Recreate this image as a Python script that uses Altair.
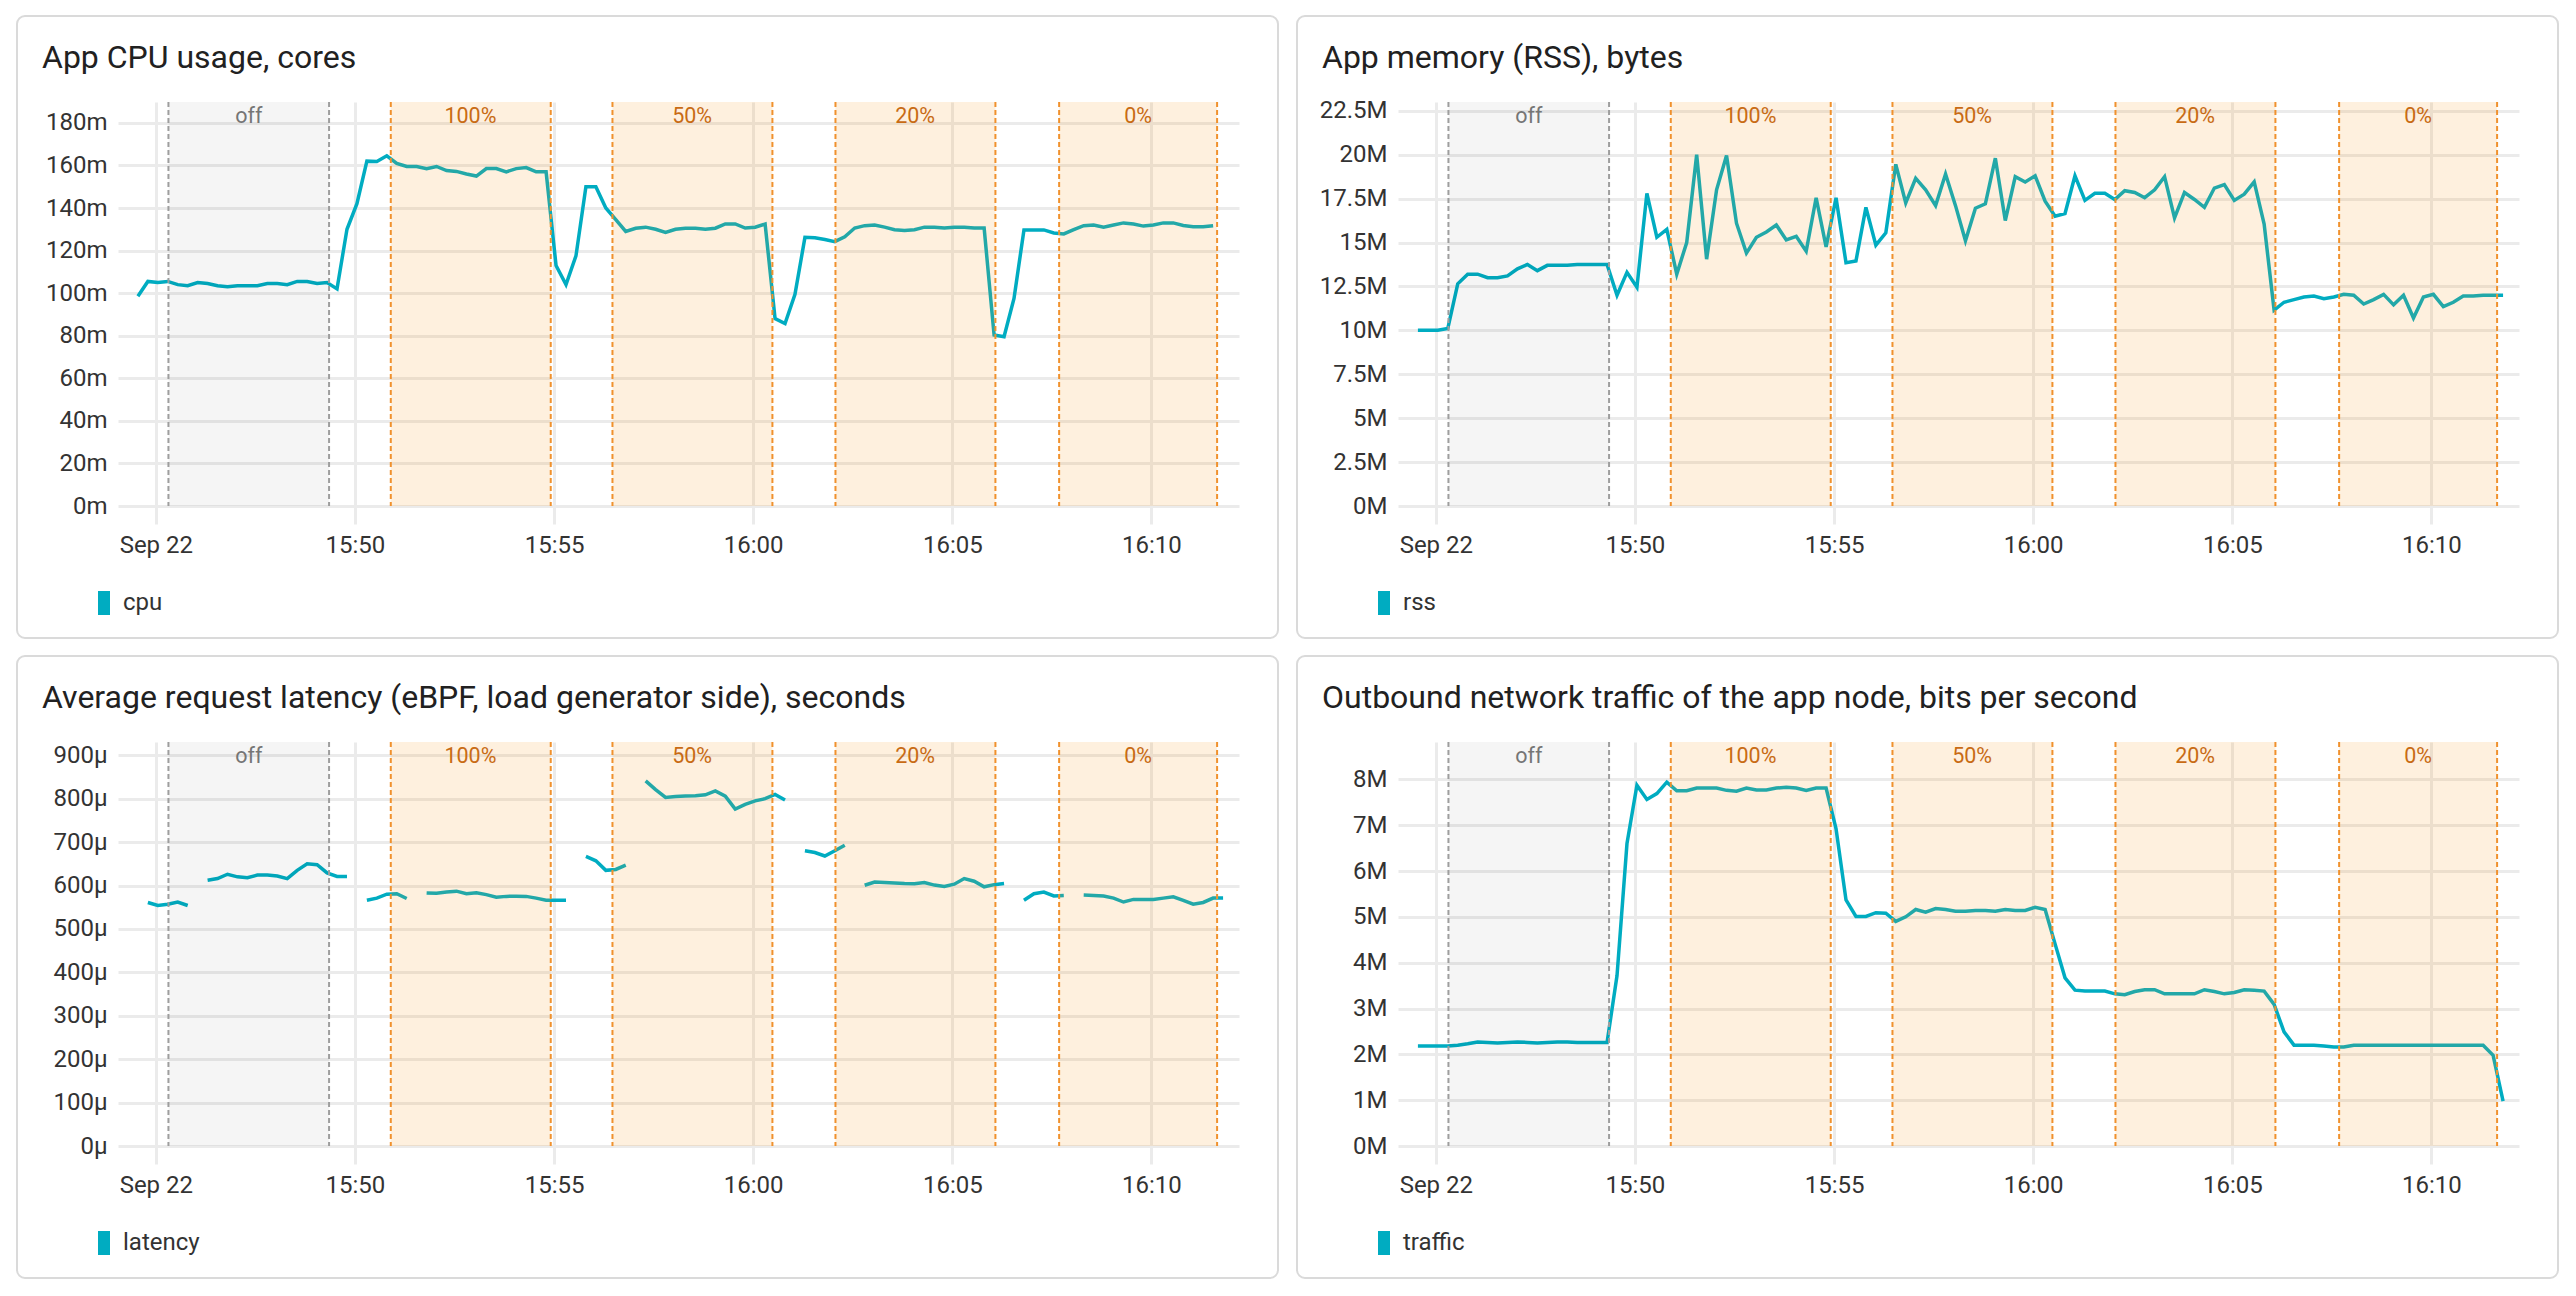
import altair as alt
import pandas as pd

# ---------------- data ----------------
DAY = "2023-09-22"
START = "15:44:33"          # first sample
STEP_SECONDS = 15           # sampling step
X_DOMAIN = ["15:44:03", "16:12:12"]
X_TICKS = ["15:45:00", "15:50:00", "15:55:00", "16:00:00", "16:05:00", "16:10:00"]

cpu_m = [98.5, 105.5, 105, 105.5, 104, 103.5, 105, 104.5, 103.5, 103,
         103.5, 103.5, 103.5, 104.5, 104.5, 104, 105.5, 105.5, 104.5, 105,
         102, 130, 142, 162, 161.8, 164.5, 161, 159.5, 159.5, 158.5,
         159.5, 157.6, 157.2, 156, 155, 158.5, 158.5, 157, 158.5, 159,
         157, 157, 113, 104, 117.5, 150, 150, 140, 134.5, 129,
         130.5, 131, 130, 128.5, 130, 130.5, 130.5, 130, 130.5, 132.5,
         132.5, 130.6, 131, 132.5, 88, 85.7, 99.4, 126.2, 126, 125.2,
         124.2, 126.5, 130.6, 131.7, 132, 131, 129.8, 129.4, 129.8, 131,
         131, 130.6, 131, 131, 130.6, 130.6, 80.3, 79.5, 97.5, 129.7,
         129.7, 129.7, 128.3, 127.8, 129.8, 131.7, 132, 131, 132, 133,
         132.5, 131.5, 132, 133, 133, 131.8, 131.2, 131.2, 131.7]

rss_M = [10.0, 10.0, 10.0, 10.1, 12.65, 13.2, 13.2, 13.0, 13.0, 13.1,
         13.5, 13.75, 13.4, 13.7, 13.7, 13.7, 13.75, 13.75, 13.75, 13.75,
         12.0, 13.3, 12.45, 17.8, 15.3, 15.75, 13.2, 15.0, 20.0, 14.05,
         18.0, 19.95, 16.1, 14.4, 15.3, 15.6, 16.0, 15.15, 15.35, 14.5,
         17.55, 14.75, 17.55, 13.85, 13.95, 17.0, 14.85, 15.55, 19.45, 17.25,
         18.65, 18.0, 17.1, 18.9, 17.1, 15.1, 16.95, 17.2, 19.8, 16.25,
         18.75, 18.45, 18.8, 17.35, 16.5, 16.65, 18.8, 17.4, 17.8, 17.8,
         17.45, 17.95, 17.85, 17.55, 18.0, 18.75, 16.4, 17.85, 17.45, 17.0,
         18.1, 18.3, 17.4, 17.75, 18.45, 16.05, 11.15, 11.6, 11.75, 11.9,
         11.95, 11.8, 11.9, 12.05, 12.0, 11.5, 11.75, 12.05, 11.45, 12.0,
         10.7, 11.9, 12.05, 11.35, 11.6, 11.95, 11.95, 12.0, 12.0, 12.0]

latency_us = [None, 561, 554, 557, 562, 554, None, 612, 616, 626,
              620, 618, 624, 624, 622, 616, 635, 650, 648, 629,
              621, 621, None, 566, 571, 580, 581, 570, None, 583,
              582, 585, 587, 581, 583.5, 579, 573, 575, 575.5, 575,
              571, 566, 566, 566, None, 667, 657, 635, 637, 647,
              None, 841, 821, 803, 805, 806, 807, 809, 818, 806,
              776, 787, 795, 800, 810, 797, None, 680, 676, 668,
              680, 693, None, 600.6, 608, 607, 606, 604.5, 604, 607,
              601, 598, 603, 616, 610, 597, 602, 604.5, None, 566,
              581, 585, 576, 577, None, 578, 577, 576, 571, 562,
              568, 568, 568, 571, 574, 566, 557, 561, 571, 571]

traffic_M = [2.18, 2.18, 2.18, 2.18, 2.2, 2.23, 2.27, 2.26, 2.25, 2.26,
             2.27, 2.26, 2.25, 2.26, 2.27, 2.27, 2.26, 2.26, 2.26, 2.26,
             3.72, 6.6, 7.87, 7.56, 7.69, 7.94, 7.75, 7.75, 7.81, 7.81,
             7.81, 7.76, 7.74, 7.81, 7.77, 7.77, 7.81, 7.83, 7.81, 7.76,
             7.81, 7.81, 6.92, 5.37, 5.01, 5.01, 5.09, 5.08, 4.9, 5.0,
             5.16, 5.1, 5.18, 5.16, 5.12, 5.12, 5.14, 5.14, 5.12, 5.16,
             5.14, 5.14, 5.21, 5.16, 4.41, 3.67, 3.4, 3.38, 3.38, 3.38,
             3.32, 3.3, 3.37, 3.41, 3.41, 3.32, 3.32, 3.32, 3.32, 3.41,
             3.37, 3.32, 3.35, 3.41, 3.4, 3.38, 3.09, 2.49, 2.2, 2.2,
             2.2, 2.18, 2.16, 2.16, 2.2, 2.2, 2.2, 2.2, 2.2, 2.2,
             2.2, 2.2, 2.2, 2.2, 2.2, 2.2, 2.2, 2.2, 1.98, 0.98]

region_label = ["off", "100%", "50%", "20%", "0%"]
region_start = ["15:45:19", "15:50:54", "15:56:28", "16:02:04", "16:07:41"]
region_end = ["15:49:21", "15:54:55", "16:00:29", "16:06:05", "16:11:39"]

cpu_ticks = [0, 20, 40, 60, 80, 100, 120, 140, 160, 180]
rss_ticks = [0, 2.5, 5, 7.5, 10, 12.5, 15, 17.5, 20, 22.5]
latency_ticks = [0, 100, 200, 300, 400, 500, 600, 700, 800, 900]
traffic_ticks = [0, 1, 2, 3, 4, 5, 6, 7, 8]

# ---------------- styling ----------------
W, H = 1121, 404
TEAL = "#00acc1"
GRID = "#ebebeb"
TEXT = "#333333"
FONT = "Roboto"
LABEL_SIZE = 24
ORANGE_FILL = "#fa9614"
ORANGE_LINE = "#f0912d"
ORANGE_TEXT = "#c86b14"
GRAY_LINE = "#9e9e9e"
GRAY_TEXT = "#757575"


def dt(hms):
    h, m, s = (int(p) for p in hms.split(":"))
    return alt.DateTime(year=2023, month=9, date=22, hours=h, minutes=m, seconds=s)


def series_frame(values, name):
    t0 = pd.Timestamp(f"{DAY}T{START}")
    rows, seg = [], 0
    for i, v in enumerate(values):
        if v is None:
            seg += 1
            continue
        t = t0 + pd.Timedelta(seconds=STEP_SECONDS * i)
        rows.append({"t": t.strftime("%Y-%m-%dT%H:%M:%S"), "v": float(v),
                     "series": name, "seg": int(seg)})
    return pd.DataFrame(rows)


def _ts(hms):
    return pd.Timestamp(f"{DAY}T{hms}")


regions = pd.DataFrame({
    "label": region_label,
    "start": [_ts(s).strftime("%Y-%m-%dT%H:%M:%S") for s in region_start],
    "end": [_ts(s).strftime("%Y-%m-%dT%H:%M:%S") for s in region_end],
    "mid": [(_ts(a) + (_ts(b) - _ts(a)) / 2).strftime("%Y-%m-%dT%H:%M:%S")
            for a, b in zip(region_start, region_end)],
})

x_scale = alt.Scale(domain=[dt(X_DOMAIN[0]), dt(X_DOMAIN[1])])
x_axis = alt.Axis(
    title=None, grid=True, gridColor=GRID, gridWidth=3, domain=False,
    ticks=True, tickColor=GRID, tickWidth=3, tickSize=18,
    values=[dt(v) for v in X_TICKS],
    labelExpr="datum.index == 0 ? timeFormat(datum.value, '%b %d') : timeFormat(datum.value, '%H:%M')",
    labelFontSize=LABEL_SIZE, labelColor=TEXT, labelFont=FONT, labelPadding=9,
    labelFlush=False,
)

is_off = alt.datum.label == "off"


def panel(title, values, name, ymax, ticks, unit):
    df = series_frame(values, name)
    y_axis = alt.Axis(
        title=None, values=ticks, grid=True, gridColor=GRID, gridWidth=3,
        domain=False, ticks=False, labelPadding=11,
        labelExpr=f"format(datum.value, '~g') + '{unit}'",
        labelFontSize=LABEL_SIZE, labelColor=TEXT, labelFont=FONT,
    )
    y_scale = alt.Scale(domain=[0, ymax], nice=False)

    one = alt.Data(values=[{"k": 1}])
    card = alt.Chart(one).mark_rect(
        fill="#ffffff", fillOpacity=0, stroke="#dadada", strokeWidth=2, cornerRadius=8
    ).encode(x=alt.value(-101), x2=alt.value(W + 39),
             y=alt.value(-86), y2=alt.value(H + 132))

    line = alt.Chart(df).mark_line(strokeWidth=3.5).encode(
        x=alt.X("t:T", scale=x_scale, axis=x_axis),
        y=alt.Y("v:Q", scale=y_scale, axis=y_axis),
        color=alt.Color("series:N", scale=alt.Scale(range=[TEAL]),
                        legend=alt.Legend(
                            title=None, orient="none", legendX=-26, legendY=H + 85,
                            symbolType="M-0.5,-1H0.5V1H-0.5Z", symbolSize=576,
                            symbolFillColor=TEAL, symbolStrokeWidth=0,
                            labelFontSize=LABEL_SIZE, labelColor=TEXT, labelFont=FONT,
                            labelOffset=7)),
        detail="seg:N",
    )

    band = alt.Chart(regions).mark_rect().encode(
        x=alt.X("start:T", scale=x_scale, axis=x_axis),
        x2="end:T",
        y=alt.value(0), y2=alt.value(H),
        color=alt.condition(is_off, alt.value("#000000"), alt.value(ORANGE_FILL)),
        fillOpacity=alt.condition(is_off, alt.value(0.04), alt.value(0.14)),
    )
    rule_color = alt.condition(is_off, alt.value(GRAY_LINE), alt.value(ORANGE_LINE))
    rule_start = alt.Chart(regions).mark_rule(strokeDash=[5, 3], strokeWidth=2).encode(
        x=alt.X("start:T", scale=x_scale, axis=x_axis), color=rule_color)
    rule_end = alt.Chart(regions).mark_rule(strokeDash=[5, 3], strokeWidth=2).encode(
        x=alt.X("end:T", scale=x_scale, axis=x_axis), color=rule_color)
    labels = alt.Chart(regions).mark_text(
        fontSize=21.5, font=FONT, baseline="middle", align="center").encode(
        x=alt.X("mid:T", scale=x_scale, axis=x_axis),
        y=alt.value(15),
        text="label:N",
        color=alt.condition(is_off, alt.value(GRAY_TEXT), alt.value(ORANGE_TEXT)),
    )
    head = alt.Chart(one).mark_text(
        align="left", baseline="alphabetic", fontSize=32, font=FONT, color="#212121"
    ).encode(x=alt.value(-76), y=alt.value(-34), text=alt.value(title))

    return alt.layer(card, line, band, rule_start, rule_end, labels, head).properties(
        width=W, height=H)


p1 = panel("App CPU usage, cores", cpu_m, "cpu", 189.8, cpu_ticks, "m")
p2 = panel("App memory (RSS), bytes", rss_M, "rss", 23.0, rss_ticks, "M")
p3 = panel("Average request latency (eBPF, load generator side), seconds",
           latency_us, "latency", 930.6, latency_ticks, "\u00b5")
p4 = panel("Outbound network traffic of the app node, bits per second",
           traffic_M, "traffic", 8.815, traffic_ticks, "M")

row1 = alt.hconcat(p1, p2, spacing=17).resolve_scale(color="independent").resolve_legend(color="independent")
row2 = alt.hconcat(p3, p4, spacing=17).resolve_scale(color="independent").resolve_legend(color="independent")
chart = alt.vconcat(row1, row2, spacing=16).resolve_scale(
    color="independent").resolve_legend(color="independent").properties(
    padding={"left": 8, "top": 7, "right": 5, "bottom": 5}
).configure_view(strokeWidth=0)

chart.save("out.html", embed_options={"renderer": "svg", "actions": False})
